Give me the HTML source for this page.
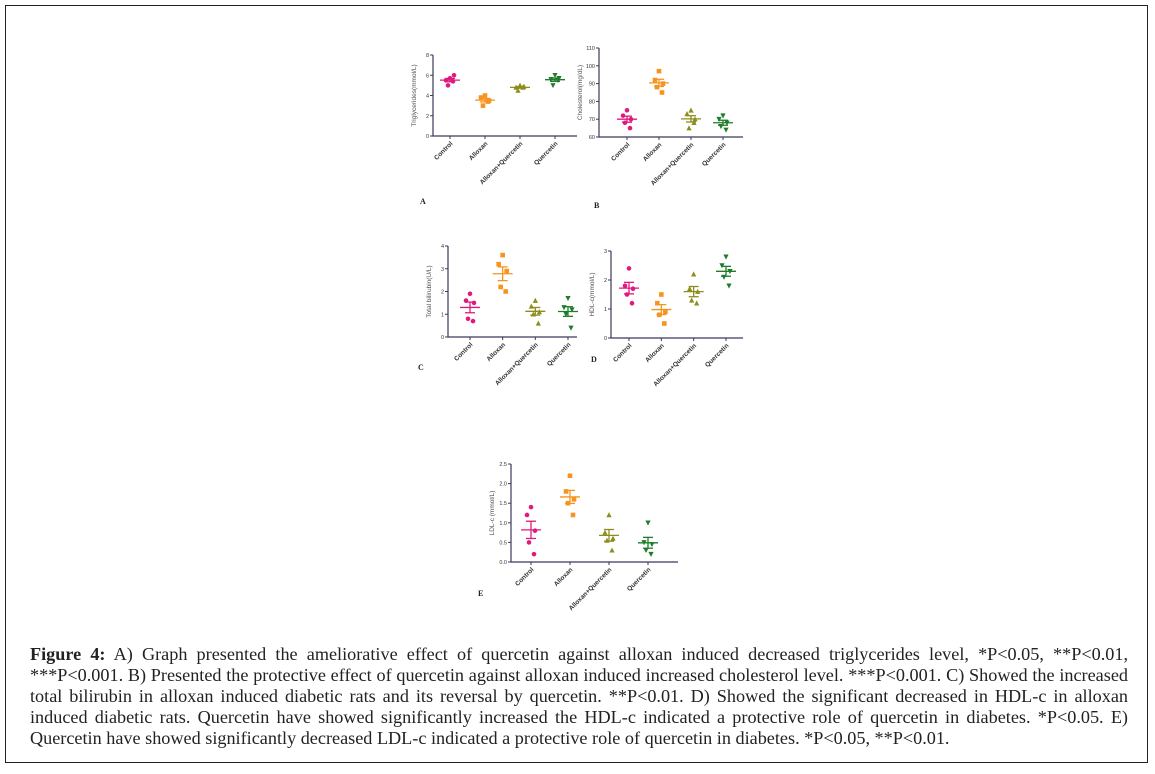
<!DOCTYPE html>
<html><head><meta charset="utf-8">
<style>
body{margin:0;width:1155px;height:774px;background:#fff;position:relative;overflow:hidden;font-family:"Liberation Sans",sans-serif}
#frame{position:absolute;left:5px;top:5px;width:1143px;height:758px;border:1.5px solid #222;box-sizing:border-box}
#chart{position:absolute;left:0;top:0}
#caption{position:absolute;left:30px;top:644px;width:1098px;font-family:"Liberation Serif",serif;font-size:18.2px;line-height:21px;color:#222}
.ln{text-align:justify;text-align-last:justify;white-space:nowrap;height:21px;overflow:visible}
.ln.last{text-align-last:left}
</style></head><body>
<div id="frame"></div>
<svg id="chart" width="1155" height="774"></svg>
<div id="caption">
<div class="ln"><b>Figure 4:</b> A) Graph presented the ameliorative effect of quercetin against alloxan induced decreased triglycerides level, *P&lt;0.05, **P&lt;0.01,</div>
<div class="ln">***P&lt;0.001. B) Presented the protective effect of quercetin against alloxan induced increased cholesterol level. ***P&lt;0.001. C) Showed the increased</div>
<div class="ln">total bilirubin in alloxan induced diabetic rats and its reversal by quercetin. **P&lt;0.01. D) Showed the significant decreased in HDL-c in alloxan</div>
<div class="ln">induced diabetic rats. Quercetin have showed significantly increased the HDL-c indicated a protective role of quercetin in diabetes. *P&lt;0.05. E)</div>
<div class="ln last">Quercetin have showed significantly decreased LDL-c indicated a protective role of quercetin in diabetes. *P&lt;0.05, **P&lt;0.01.</div>
</div>
<script>
const categories=["Control","Alloxan","Alloxan+Quercetin","Quercetin"];
const colors=["#e0197d","#f7941d","#8d8d1c","#1f7d2a"];
const shapes=["circle","square","tri-up","tri-down"];
const triglycerides=[[5.7,5.5,6.0,5.0,5.4],[4.0,3.8,3.5,3.0,3.4],[5.0,4.8,4.9,4.5,4.8],[6.0,5.6,5.7,5.0,5.5]];
const cholesterol=[[75,72,70,68,65],[97,92,90,88,85],[75,73,70,65,68],[72,70,68,66,64]];
const bilirubin=[[1.9,1.6,1.5,0.8,0.7],[3.6,3.2,2.9,2.2,2.0],[1.6,1.35,1.1,1.0,0.6],[1.7,1.3,1.2,1.0,0.4]];
const hdl=[[2.4,1.8,1.7,1.5,1.2],[1.5,1.2,0.9,0.8,0.5],[2.2,1.7,1.6,1.3,1.2],[2.8,2.5,2.3,2.1,1.8]];
const ldl=[[1.4,1.2,0.8,0.5,0.2],[2.2,1.8,1.6,1.5,1.2],[1.2,0.75,0.6,0.55,0.3],[1.0,0.5,0.45,0.3,0.2]];
const ticksA=["0","2","4","6","8"];
const ticksB=["60","70","80","90","100","110"];
const ticksC=["0","1","2","3","4"];
const ticksD=["0","1","2","3"];
const ticksE=["0.0","0.5","1.0","1.5","2.0","2.5"];

const NS="http://www.w3.org/2000/svg";
const svg=document.getElementById('chart');
function mk(tag,attrs,parent){const e=document.createElementNS(NS,tag);for(const k in attrs)e.setAttribute(k,attrs[k]);(parent||svg).appendChild(e);return e;}

function panel(cfg){
  const g=mk('g',{});
  
  
  const ymin=+cfg.ticks[0], ymax=+cfg.ticks[cfg.ticks.length-1];
  const y=v=>cfg.y0-(v-ymin)/(ymax-ymin)*(cfg.y0-cfg.y1);
  const x=i=>cfg.c0+(cfg.c3-cfg.c0)*i/(categories.length-1);
  const ax=mk('path',{d:`M${cfg.x0} ${cfg.y1} V${cfg.y0} H${cfg.xEnd}`,stroke:'#3a3a5a','stroke-width':1.2,fill:'none'},g);
  
  
  cfg.ticks.forEach(t=>{
    const yy=y(+t);
    mk('line',{x1:cfg.x0-3,x2:cfg.x0,y1:yy,y2:yy,stroke:'#3a3a5a','stroke-width':1},g);
    const tl=mk('text',{x:cfg.x0-4,y:yy+2,'text-anchor':'end','font-size':5.5,fill:'#333'},g);
    tl.textContent=t;
    
    
  });
  const yt=mk('text',{x:0,y:0,transform:`translate(${cfg.x0-17},${(cfg.y0+cfg.y1)/2}) rotate(-90)`,'text-anchor':'middle','font-size':6.5,fill:'#555'},g);
  yt.textContent=cfg.title;
  
  
  categories.forEach((c,i)=>{
    const cx=x(i);
    mk('line',{x1:cx,x2:cx,y1:cfg.y0,y2:cfg.y0+3,stroke:'#3a3a5a','stroke-width':1},g);
    const cl=mk('text',{x:0,y:0,transform:`translate(${cx+3},${cfg.y0+8}) rotate(-45)`,'text-anchor':'end','font-size':6.5,'font-weight':'bold',fill:'#333'},g);
    cl.textContent=c;
    
    
    const vals=cfg.data[i], n=vals.length;
    const mean=vals.reduce((a,b)=>a+b,0)/n;
    const sd=Math.sqrt(vals.reduce((a,b)=>a+(b-mean)**2,0)/(n-1));
    const sem=sd/Math.sqrt(n);
    const col=colors[i];
    const eb=mk('g',{stroke:col,'stroke-width':1.3},g);
    
    
    mk('line',{x1:cx-10,x2:cx+10,y1:y(mean),y2:y(mean)},eb);
    mk('line',{x1:cx-5,x2:cx+5,y1:y(mean+sem),y2:y(mean+sem)},eb);
    mk('line',{x1:cx-5,x2:cx+5,y1:y(mean-sem),y2:y(mean-sem)},eb);
    mk('line',{x1:cx,x2:cx,y1:y(mean+sem),y2:y(mean-sem)},eb);
    const jit=[0,-4,4,-2,3];
    vals.forEach((v,k)=>{
      const px=cx+jit[k], py=y(v), r=2.3;
      let m;
      if(shapes[i]==='circle') m=mk('circle',{cx:px,cy:py,r:r,fill:col},g);
      else if(shapes[i]==='square') m=mk('rect',{x:px-r,y:py-r,width:2*r,height:2*r,fill:col},g);
      else if(shapes[i]==='tri-up') m=mk('path',{d:`M${px} ${py-r-0.5} L${px+r+0.3} ${py+r} L${px-r-0.3} ${py+r}Z`,fill:col},g);
      else m=mk('path',{d:`M${px} ${py+r+0.5} L${px+r+0.3} ${py-r} L${px-r-0.3} ${py-r}Z`,fill:col},g);
      
      
    });
  });
  const pl=mk('text',{x:cfg.lx,y:cfg.ly,'font-size':8,'font-weight':'bold','font-family':'Liberation Serif, serif',fill:'#222'},g);
  pl.textContent=cfg.letter;
  
  
}
panel({letter:'A',data:triglycerides,ticks:ticksA,title:'Triglycerides(mmol/L)',x0:433,y0:136,y1:55,xEnd:577,c0:450,c3:555,lx:420,ly:204});
panel({letter:'B',data:cholesterol,ticks:ticksB,title:'Cholesterol(mg/dL)',x0:599,y0:137,y1:48,xEnd:743,c0:627,c3:723,lx:594,ly:208});
panel({letter:'C',data:bilirubin,ticks:ticksC,title:'Total bilirubin(U/L)',x0:448,y0:337,y1:246,xEnd:577,c0:470,c3:568,lx:418,ly:370});
panel({letter:'D',data:hdl,ticks:ticksD,title:'HDL-c(mmol/L)',x0:611,y0:338,y1:251,xEnd:743,c0:629,c3:726,lx:591,ly:362});
panel({letter:'E',data:ldl,ticks:ticksE,title:'LDL-c (mmol/L)',x0:511,y0:562,y1:464,xEnd:678,c0:531,c3:648,lx:478,ly:596});
</script>
</body></html>
